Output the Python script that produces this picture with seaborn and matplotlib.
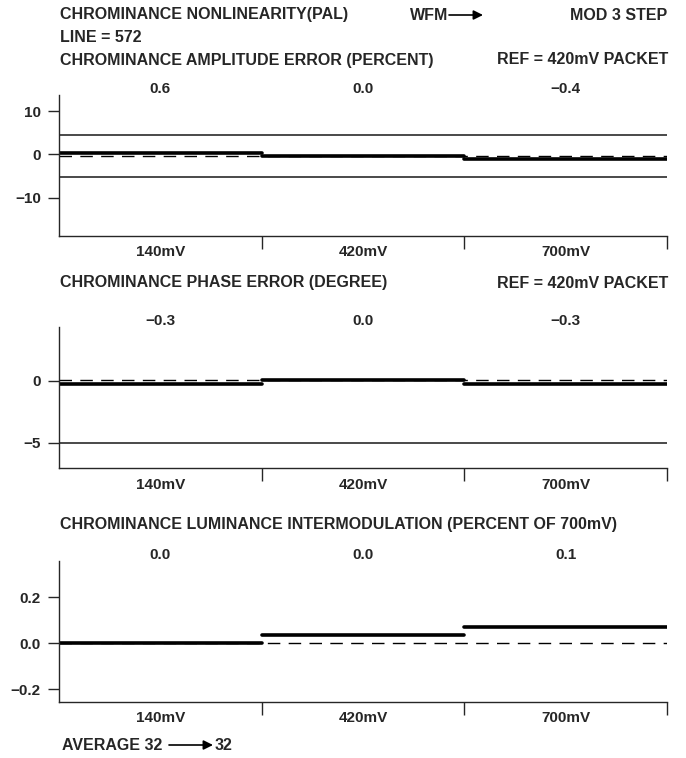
import pandas as pd
import seaborn as sns
import matplotlib.pyplot as plt
from matplotlib.patches import FancyArrowPatch

# chart data
categories = ['140mV', '420mV', '700mV']

amp_values = [0.25, -0.45, -1.15]
amp_ref = -0.35
amp_limits = [4.5, -5.2]
amp_labels = ['0.6', '0.0', '\u22120.4']
amp_yticks = [10, 0, -10]

phase_values = [-0.28, 0.05, -0.28]
phase_ref = 0.05
phase_limits = [-5.0]
phase_labels = ['\u22120.3', '0.0', '\u22120.3']
phase_yticks = [0, -5]

icm_values = [0.0, 0.035, 0.07]
icm_ref = 0.0
icm_limits = []
icm_labels = ['0.0', '0.0', '0.1']
icm_yticks = [0.2, 0.0, -0.2]

sns.set_style('ticks')
plt.rcParams['font.family'] = ['Liberation Sans', 'DejaVu Sans']
plt.rcParams['font.weight'] = 'bold'
plt.rcParams['axes.linewidth'] = 1.0

FS = 11
FS_HEAD = 11.5
W, H = 686, 758

fig = plt.figure(figsize=(W / 100, H / 100), dpi=100)


def fy(ypx):
    return 1 - ypx / H


def panel(top_px, bottom_px, values, ref, limits, labels, yticks, ylim):
    ax = fig.add_axes([59 / W, fy(bottom_px), (667 - 59) / W,
                       (bottom_px - top_px) / H])
    rows = []
    for i, (cat, v) in enumerate(zip(categories, values)):
        rows.append({'x': i, 'y': v, 'seg': cat})
        rows.append({'x': i + 1, 'y': v, 'seg': cat})
    df = pd.DataFrame(rows)
    ax.axhline(ref, color='black', lw=1.0, linestyle=(0, (9, 6)))
    for lim in limits:
        ax.axhline(lim, color='#3a3a3a', lw=1.3)
    sns.lineplot(data=df, x='x', y='y', units='seg', estimator=None,
                 sort=False, color='black', lw=2.6, ax=ax, legend=False)
    sns.despine(ax=ax)
    ax.set_xlim(0, 3)
    ax.set_ylim(*ylim)
    ax.set_xlabel('')
    ax.set_ylabel('')
    ax.set_xticks([1, 2, 3])
    ax.set_xticklabels([])
    ax.set_xticks([0.5, 1.5, 2.5], minor=True)
    ax.set_xticklabels(categories, minor=True, fontsize=FS, fontweight='bold')
    ax.tick_params(axis='x', which='major', length=9, width=1, direction='out')
    ax.tick_params(axis='x', which='minor', length=0, pad=7)
    ax.set_yticks(yticks)
    ax.tick_params(axis='y', length=8, width=1, pad=5, labelsize=FS)
    for lab in ax.get_yticklabels():
        lab.set_fontweight('bold')
    for i, lab in enumerate(labels):
        ax.annotate(lab, xy=(i + 0.5, 1.0), xycoords=('data', 'axes fraction'),
                    xytext=(0, 4), textcoords='offset points',
                    ha='center', va='center', fontsize=FS, fontweight='bold')
    return ax


panel(94.7, 235.7, amp_values, amp_ref, amp_limits, amp_labels,
      amp_yticks, (-18.8, 13.8))
panel(326.7, 468.3, phase_values, phase_ref, phase_limits, phase_labels,
      phase_yticks, (-7.06, 4.35))
panel(561, 701.7, icm_values, icm_ref, icm_limits, icm_labels,
      icm_yticks, (-0.254, 0.358))

tkw = dict(fontsize=FS_HEAD, fontweight='bold', va='center')
fig.text(60 / W, fy(15), 'CHROMINANCE NONLINEARITY(PAL)', ha='left', **tkw)
fig.text(410 / W, fy(15), 'WFM', ha='left', **tkw)
fig.text(667 / W, fy(15), 'MOD 3 STEP', ha='right', **tkw)
fig.text(60 / W, fy(38), 'LINE = 572', ha='left', **tkw)
fig.text(60 / W, fy(60), 'CHROMINANCE AMPLITUDE ERROR (PERCENT)', ha='left', **tkw)
fig.text(668 / W, fy(60), 'REF = 420mV PACKET', ha='right', **tkw)
fig.text(60 / W, fy(283), 'CHROMINANCE PHASE ERROR (DEGREE)', ha='left', **tkw)
fig.text(668 / W, fy(283), 'REF = 420mV PACKET', ha='right', **tkw)
fig.text(60 / W, fy(525), 'CHROMINANCE LUMINANCE INTERMODULATION (PERCENT OF 700mV)',
         ha='left', **tkw)
fig.text(62 / W, fy(745), 'AVERAGE 32', ha='left', **tkw)
fig.text(215 / W, fy(745), '32', ha='left', **tkw)

arrow = dict(arrowstyle='-|>', color='black', lw=1.2, mutation_scale=14,
             shrinkA=0, shrinkB=0)
fig.add_artist(FancyArrowPatch((449 / W, fy(15)), (483 / W, fy(15)),
                               transform=fig.transFigure, **arrow))
fig.add_artist(FancyArrowPatch((169 / W, fy(745)), (213 / W, fy(745)),
                               transform=fig.transFigure, **arrow))

fig.savefig('out.png', dpi=100)
